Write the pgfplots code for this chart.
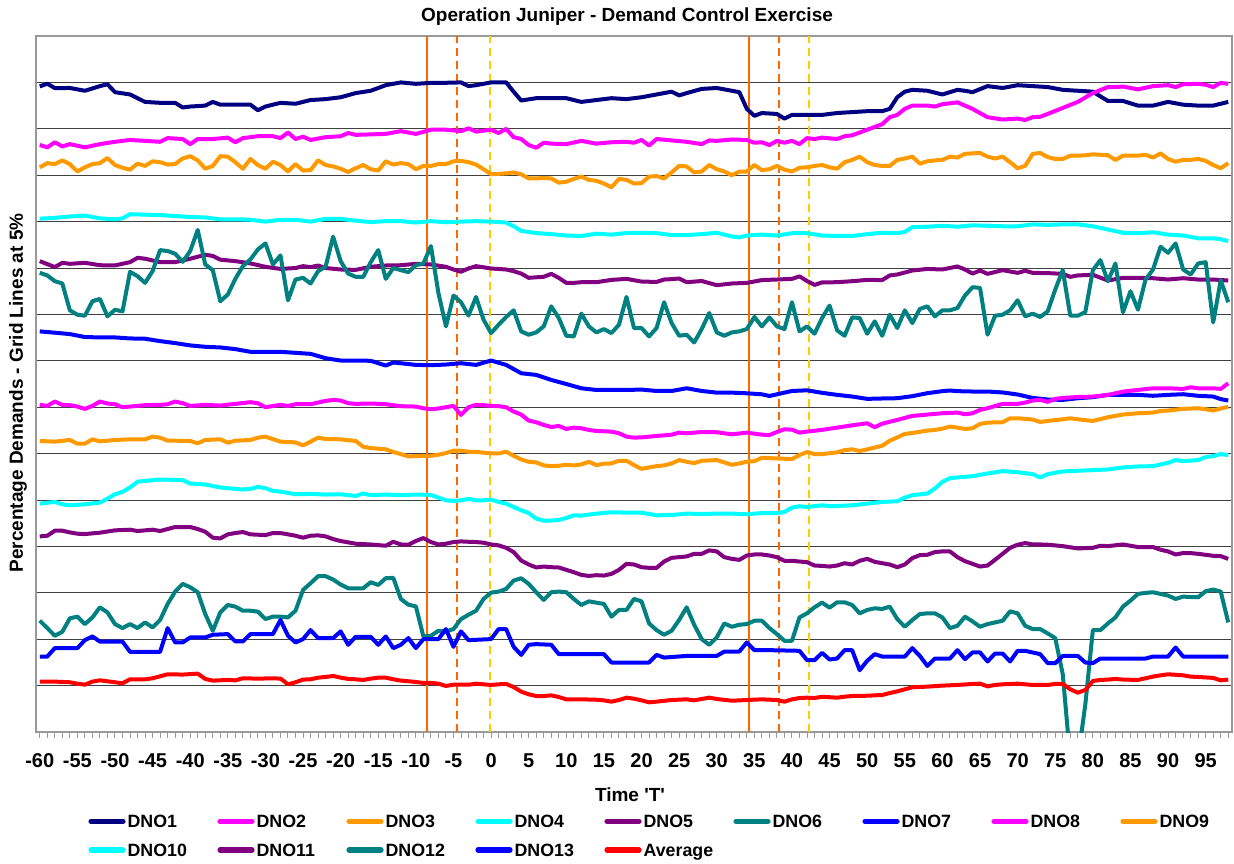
\documentclass[border=0pt]{standalone}
\usepackage{fontspec}
\setmainfont{Liberation Sans}
\usepackage{pgfplots}
\pgfplotsset{compat=1.18}
\definecolor{cNavy}{RGB}{0,0,128}
\definecolor{cMag}{RGB}{255,0,255}
\definecolor{cOrg}{RGB}{255,153,0}
\definecolor{cCyan}{RGB}{0,255,255}
\definecolor{cPurp}{RGB}{128,0,128}
\definecolor{cTeal}{RGB}{0,128,128}
\definecolor{cBlue}{RGB}{0,0,255}
\definecolor{cRed}{RGB}{255,0,0}
\definecolor{vOrange}{RGB}{255,102,0}
\definecolor{vYellow}{RGB}{255,204,0}
\newcommand{\lbl}[1]{\makebox[44.9pt][l]{#1}}
\begin{document}
\begin{tikzpicture}
\path[use as bounding box] (-18pt,-65.5pt) rectangle (599pt,366pt);
\begin{axis}[
  at={(0pt,0pt)}, anchor=south west,
  scale only axis, width=598pt, height=348pt,
  xmin=-60.5, xmax=98.5, ymin=0, ymax=75,
  axis line style={draw=gray!80, line width=0.6pt},
  xtick={-60,-55,...,95},
  xticklabels={-60,-55,-50,-45,-40,-35,-30,-25,-20,-15,-10,-5,0,5,10,15,20,25,30,35,40,45,50,55,60,65,70,75,80,85,90,95},
  minor xtick={-60,-59,...,98},
  xtick pos=left,
  tick align=outside,
  major tick length=3pt, minor tick length=3pt,
  x tick style={draw=gray!80, line width=0.5pt},
  ytick={5,10,...,70},
  yticklabels={},
  y tick style={draw=none},
  ymajorgrids,
  major grid style={draw=black!75, line width=0.5pt},
  xticklabel style={font=\bfseries\fontsize{10}{12}\selectfont, anchor=center, inner sep=0pt, text height=7.2pt, text depth=0pt, yshift=-11pt},
  every axis plot/.append style={line width=2pt, line join=round, mark=none},
  legend columns=9,
  legend style={at={(axis description cs:0.04348,-0.1185)}, anchor=north west, draw=none, fill=none, inner sep=0pt, row sep=8pt,
    font=\bfseries\fontsize{8.9}{10}\selectfont,
    nodes={inner sep=0pt, text height=6.4pt, text depth=0pt},
    /tikz/every odd column/.style={column sep=1pt},
    /tikz/every even column/.style={column sep=0pt},
    cells={anchor=west}},
  legend image code/.code={\draw[#1, line width=2.6pt, line cap=round] (0pt,0pt) -- (16pt,0pt);},
]
% event markers
\addplot[vOrange, line width=1pt, forget plot] coordinates {(-8.55,0) (-8.55,75)};
\addplot[vOrange, line width=1pt, dash pattern=on 4pt off 2.5pt, forget plot] coordinates {(-4.5,0) (-4.5,75)};
\addplot[vYellow, line width=1pt, dash pattern=on 4pt off 2.5pt, forget plot] coordinates {(-0.2,0) (-0.2,75)};
\addplot[vOrange, line width=1pt, forget plot] coordinates {(34.3,0) (34.3,75)};
\addplot[vOrange, line width=1pt, dash pattern=on 4pt off 2.5pt, forget plot] coordinates {(38.25,0) (38.25,75)};
\addplot[vYellow, line width=1pt, dash pattern=on 4pt off 2.5pt, forget plot] coordinates {(42.3,0) (42.3,75)};

% DNO1
\addplot[cNavy] coordinates {(-60,69.57)(-59,69.86)(-58,69.39)(-56,69.4)(-54,69.1)(-52,69.6)(-51,69.8)(-50,68.95)(-48,68.7)(-46,67.9)(-44,67.8)(-42,67.8)(-41,67.3)(-40,67.4)(-38,67.5)(-37,67.9)(-36,67.6)(-34,67.6)(-32,67.6)(-31,67.0)(-30,67.4)(-28,67.8)(-26,67.7)(-24,68.1)(-22,68.2)(-20,68.4)(-18,68.85)(-16,69.1)(-14,69.7)(-12,70.0)(-10,69.85)(-8,69.95)(-6,69.96)(-4,70.0)(-3,69.6)(-2,69.7)(0,70.0)(2,70.0)(3,69.0)(4,68.05)(6,68.3)(8,68.3)(10,68.3)(12,67.9)(14,68.1)(16,68.3)(18,68.2)(20,68.4)(22,68.7)(24,69.0)(25,68.6)(26,68.85)(28,69.3)(30,69.4)(32,69.1)(33,68.95)(34,67.15)(35,66.4)(36,66.7)(38,66.6)(39,66.1)(40,66.5)(42,66.5)(44,66.5)(46,66.7)(48,66.8)(50,66.9)(52,66.9)(53,67.15)(54,68.4)(55,69.0)(56,69.2)(58,69.1)(60,68.7)(62,69.2)(63,69.1)(64,68.95)(66,69.6)(68,69.4)(70,69.7)(72,69.6)(74,69.5)(76,69.2)(78,69.1)(80,69.0)(82,68.0)(84,68.0)(86,67.5)(88,67.5)(90,67.9)(92,67.6)(94,67.5)(96,67.5)(98,67.9)};
\addlegendentry{\lbl{DNO1}}
% DNO2
\addplot[cMag] coordinates {(-60,63.26)(-59,63.0)(-58,63.55)(-57,63.1)(-56,63.35)(-54,63.0)(-52,63.35)(-50,63.6)(-48,63.8)(-46,63.7)(-44,63.6)(-43,64.0)(-41,63.9)(-40,63.35)(-39,63.9)(-37,63.9)(-35,64.05)(-34,63.55)(-33,64.0)(-31,64.2)(-29,64.2)(-28,64.0)(-27,64.6)(-26,63.9)(-25,64.15)(-24,63.8)(-22,64.1)(-20,64.2)(-19,64.55)(-18,64.35)(-16,64.4)(-14,64.45)(-12,64.75)(-10,64.45)(-8,64.9)(-6,64.9)(-4,64.75)(-3,65.05)(-2,64.7)(0,64.9)(1,64.55)(2,64.99)(3,64.1)(4,63.9)(5,63.25)(6,62.96)(7,63.5)(8,63.4)(10,63.35)(12,63.7)(14,63.4)(16,63.55)(18,63.6)(19,63.5)(20,63.8)(21,63.2)(22,63.9)(24,63.75)(26,63.6)(28,63.35)(29,63.75)(30,63.7)(32,63.85)(34,63.8)(35,63.5)(36,63.55)(37,63.25)(38,63.7)(39,63.5)(40,63.7)(41,63.35)(42,64.0)(43,63.9)(44,64.05)(46,63.9)(47,64.2)(48,64.3)(50,64.9)(52,65.5)(53,66.25)(54,66.5)(55,67.15)(56,67.5)(58,67.5)(59,67.4)(60,67.65)(62,67.85)(63,67.5)(64,67.15)(65,66.7)(66,66.25)(68,66.0)(70,66.1)(71,65.95)(72,66.25)(73,66.3)(74,66.6)(76,67.25)(78,67.9)(80,68.85)(82,69.5)(83,69.5)(84,69.55)(86,69.25)(88,69.6)(90,69.7)(91,69.5)(92,69.8)(94,69.85)(95,69.75)(96,69.5)(97,69.95)(98,69.85)};
\addlegendentry{\lbl{DNO2}}
% DNO3
\addplot[cOrg] coordinates {(-60,60.84)(-59,61.3)(-58,61.2)(-57,61.6)(-56,61.2)(-55,60.4)(-54,60.85)(-53,61.2)(-52,61.3)(-51,61.85)(-50,61.1)(-49,60.8)(-48,60.6)(-47,61.25)(-46,61.0)(-45,61.5)(-44,61.4)(-43,61.15)(-42,61.2)(-41,61.8)(-40,62.05)(-39,61.6)(-38,60.7)(-37,61.0)(-36,62.05)(-35,62.0)(-34,61.4)(-33,60.7)(-32,61.75)(-31,61.1)(-30,60.7)(-29,61.45)(-28,61.1)(-27,60.4)(-26,61.2)(-25,60.5)(-24,60.55)(-23,61.6)(-22,61.1)(-21,60.95)(-20,60.7)(-19,60.35)(-18,60.75)(-17,61.1)(-16,60.65)(-15,60.5)(-14,61.5)(-13,61.15)(-12,61.3)(-11,61.2)(-10,60.65)(-9,61.0)(-8,61.0)(-7,61.2)(-6,61.2)(-5,61.5)(-4,61.55)(-3,61.4)(-2,61.15)(-1,60.65)(0,60.1)(1,60.15)(2,60.2)(3,60.3)(4,60.1)(5,59.65)(6,59.65)(7,59.7)(8,59.65)(9,59.2)(10,59.3)(11,59.6)(12,59.85)(13,59.5)(14,59.4)(15,59.1)(16,58.7)(17,59.6)(18,59.5)(19,59.1)(20,59.15)(21,59.85)(22,59.9)(23,59.65)(24,60.3)(25,61.0)(26,60.95)(27,60.3)(28,60.4)(29,61.1)(30,60.65)(31,60.4)(32,60.0)(33,60.4)(34,60.4)(35,61.1)(36,60.55)(37,60.65)(38,61.0)(39,60.6)(40,60.4)(41,60.8)(42,60.85)(43,61.0)(44,61.1)(45,60.85)(46,60.7)(47,61.4)(48,61.65)(49,62.0)(50,61.4)(51,61.1)(52,61.0)(53,61.0)(54,61.65)(55,61.8)(56,62.0)(57,61.25)(58,61.5)(59,61.6)(60,61.65)(61,62.0)(62,61.9)(63,62.3)(64,62.35)(65,62.4)(66,62.0)(67,61.8)(68,62.0)(69,61.4)(70,60.75)(71,61.0)(72,62.3)(73,62.4)(74,61.95)(75,61.75)(76,61.75)(77,62.1)(78,62.1)(79,62.15)(80,62.25)(82,62.15)(83,61.65)(84,62.1)(85,62.1)(86,62.1)(87,62.2)(88,61.9)(89,62.35)(90,61.75)(91,61.45)(92,61.65)(93,61.65)(94,61.75)(95,61.55)(96,61.1)(97,60.75)(98,61.3)};
\addlegendentry{\lbl{DNO3}}
% DNO4
\addplot[cCyan] coordinates {(-60,55.32)(-58,55.4)(-56,55.55)(-54,55.65)(-52,55.35)(-50,55.25)(-49,55.35)(-48,55.8)(-46,55.75)(-44,55.7)(-42,55.6)(-40,55.5)(-38,55.45)(-36,55.25)(-34,55.25)(-32,55.2)(-30,55.0)(-28,55.2)(-26,55.2)(-24,55.0)(-22,55.3)(-20,55.3)(-18,55.1)(-16,54.95)(-14,55.05)(-12,55.05)(-10,54.9)(-8,55.05)(-6,54.93)(-4,55.0)(-2,55.05)(0,55.0)(2,54.9)(3,54.5)(4,54.0)(6,53.77)(8,53.65)(10,53.5)(12,53.45)(14,53.7)(16,53.6)(18,53.77)(20,53.8)(22,53.75)(24,53.55)(26,53.55)(28,53.65)(30,53.8)(32,53.4)(33,53.3)(34,53.5)(36,53.6)(38,53.5)(40,53.75)(42,53.75)(44,53.5)(46,53.45)(48,53.45)(50,53.65)(52,53.8)(54,53.75)(55,53.9)(56,54.4)(58,54.45)(60,54.55)(62,54.45)(64,54.6)(66,54.55)(68,54.5)(70,54.5)(72,54.7)(74,54.65)(76,54.7)(78,54.7)(80,54.5)(82,54.15)(84,53.8)(86,53.75)(88,53.85)(90,53.6)(92,53.5)(94,53.2)(96,53.2)(97,53.1)(98,52.9)};
\addlegendentry{\lbl{DNO4}}
% DNO5
\addplot[cPurp] coordinates {(-60,50.74)(-58,50.1)(-57,50.56)(-56,50.45)(-54,50.56)(-52,50.3)(-50,50.28)(-48,50.63)(-47,51.1)(-46,51.0)(-44,50.63)(-42,50.63)(-40,51.0)(-38,51.43)(-37,51.3)(-36,50.9)(-34,50.74)(-32,50.5)(-30,50.13)(-28,49.9)(-26,50.0)(-25,50.2)(-24,50.1)(-23,50.27)(-22,50.0)(-20,49.84)(-18,49.8)(-16,50.13)(-14,50.27)(-12,50.3)(-10,50.45)(-8,50.38)(-6,50.13)(-5,49.84)(-4,49.6)(-3,49.95)(-2,50.2)(0,49.95)(2,49.84)(3,49.66)(4,49.4)(5,48.94)(6,49.0)(7,49.05)(8,49.37)(9,48.94)(10,48.4)(11,48.4)(12,48.47)(14,48.47)(16,48.72)(18,48.83)(20,48.54)(22,48.5)(23,48.76)(24,48.8)(25,48.87)(26,48.47)(28,48.6)(30,48.15)(32,48.33)(34,48.4)(36,48.7)(38,48.76)(40,48.83)(41,49.1)(42,48.6)(43,48.18)(44,48.45)(46,48.47)(48,48.58)(50,48.72)(52,48.7)(53,49.2)(54,49.3)(56,49.73)(58,49.9)(60,49.84)(62,50.17)(63,49.84)(64,49.4)(65,49.73)(66,49.37)(68,49.77)(70,49.48)(71,49.7)(72,49.48)(74,49.45)(76,49.37)(77,49.05)(78,49.2)(80,49.27)(82,48.65)(84,48.94)(86,48.94)(88,48.9)(90,48.76)(92,48.9)(94,48.76)(96,48.76)(98,48.65)};
\addlegendentry{\lbl{DNO5}}
% DNO6
\addplot[cTeal] coordinates {(-60,49.48)(-59,49.2)(-58,48.58)(-57,48.33)(-56,45.44)(-55,44.97)(-54,44.86)(-53,46.42)(-52,46.67)(-51,44.79)(-50,45.5)(-49,45.33)(-48,49.59)(-47,49.12)(-46,48.4)(-45,49.66)(-44,51.93)(-43,51.83)(-42,51.54)(-41,50.67)(-40,51.83)(-39,54.1)(-38,50.38)(-37,49.77)(-36,46.42)(-35,47.14)(-34,48.83)(-33,50.2)(-32,50.92)(-31,52.0)(-30,52.65)(-29,50.38)(-28,51.36)(-27,46.52)(-26,48.76)(-25,48.94)(-24,48.33)(-23,49.66)(-22,50.13)(-21,53.38)(-20,50.74)(-19,49.4)(-18,49.05)(-17,49.05)(-16,50.63)(-15,51.93)(-14,48.83)(-13,50.0)(-12,49.77)(-11,49.55)(-10,50.3)(-9,50.49)(-8,52.36)(-7,47.3)(-6,43.71)(-5,47.03)(-4,46.31)(-3,44.87)(-2,46.88)(-1,44.43)(0,42.99)(1,43.89)(2,44.72)(3,45.44)(4,43.17)(5,42.81)(6,43.06)(7,43.71)(8,45.87)(9,44.61)(10,42.7)(11,42.63)(12,45.08)(13,43.71)(14,43.06)(15,43.42)(16,42.99)(17,43.89)(18,46.88)(19,43.53)(20,43.53)(21,42.63)(22,43.53)(23,46.31)(24,44.07)(25,42.7)(26,42.81)(27,41.98)(28,43.42)(29,45.15)(30,43.06)(31,42.7)(32,43.06)(33,43.17)(34,43.42)(35,44.72)(36,43.71)(37,44.68)(38,43.71)(39,43.42)(40,46.31)(41,43.17)(42,43.71)(43,42.92)(44,44.61)(45,45.95)(46,43.28)(47,42.7)(48,44.68)(49,44.61)(50,42.92)(51,44.25)(52,42.7)(53,44.97)(54,43.53)(55,45.44)(56,44.07)(57,45.59)(58,45.87)(59,44.79)(60,45.44)(61,45.44)(62,45.69)(63,47.03)(64,47.93)(65,47.86)(66,42.81)(67,44.86)(68,44.97)(69,45.44)(70,46.52)(71,44.79)(72,45.08)(73,44.72)(74,45.33)(75,47.68)(76,49.77)(77,44.86)(78,44.86)(79,45.26)(80,49.77)(81,50.85)(82,48.58)(83,50.49)(84,45.23)(85,47.5)(86,45.51)(87,48.76)(88,49.84)(89,52.29)(90,51.64)(91,52.65)(92,49.84)(93,49.3)(94,50.49)(95,50.63)(96,44.14)(97,48.69)(98,46.31)};
\addlegendentry{\lbl{DNO6}}
% DNO7
\addplot[cBlue] coordinates {(-60,43.17)(-58,43.03)(-56,42.88)(-54,42.56)(-52,42.52)(-50,42.52)(-48,42.41)(-46,42.38)(-44,42.12)(-42,41.91)(-40,41.66)(-38,41.51)(-36,41.44)(-34,41.26)(-32,40.97)(-30,40.97)(-28,40.97)(-26,40.86)(-24,40.75)(-22,40.28)(-20,40.03)(-18,40.03)(-16,40.0)(-14,39.49)(-13,39.82)(-12,39.74)(-10,39.56)(-8,39.53)(-6,39.6)(-4,39.74)(-2,39.56)(0,40.03)(2,39.56)(4,38.66)(6,38.48)(8,37.94)(10,37.5)(12,37.04)(14,36.86)(16,36.86)(18,36.86)(20,36.9)(22,36.75)(24,36.75)(26,37.04)(28,36.75)(30,36.57)(32,36.57)(34,36.5)(36,36.39)(37,36.21)(38,36.39)(40,36.75)(42,36.82)(44,36.55)(46,36.33)(48,36.15)(50,35.9)(52,35.94)(54,35.97)(56,36.19)(58,36.51)(60,36.73)(61,36.8)(62,36.73)(64,36.69)(66,36.69)(68,36.59)(70,36.37)(72,36.0)(74,35.83)(76,35.79)(78,35.97)(80,36.08)(82,36.33)(84,36.33)(86,36.33)(88,36.23)(90,36.33)(92,36.4)(94,36.23)(96,36.15)(97,35.87)(98,35.72)};
\addlegendentry{\lbl{DNO7}}
% DNO8
\addplot[cMag] coordinates {(-60,35.25)(-59,35.14)(-58,35.61)(-57,35.25)(-56,35.22)(-55,35.07)(-54,34.82)(-53,35.14)(-52,35.61)(-51,35.4)(-50,35.32)(-49,35.0)(-48,35.07)(-46,35.22)(-44,35.25)(-43,35.32)(-42,35.61)(-41,35.43)(-40,35.14)(-38,35.25)(-36,35.18)(-34,35.36)(-32,35.54)(-31,35.43)(-30,35.0)(-28,35.25)(-27,35.14)(-26,35.32)(-24,35.32)(-23,35.5)(-22,35.68)(-21,35.79)(-20,35.72)(-19,35.43)(-18,35.36)(-16,35.4)(-14,35.32)(-12,35.11)(-10,35.07)(-9,34.89)(-8,34.78)(-7,34.86)(-6,35.0)(-5,35.14)(-4,34.17)(-3,35.0)(-2,35.25)(-1,35.22)(0,35.14)(1,35.11)(2,35.0)(3,34.53)(4,34.21)(5,33.56)(6,33.38)(7,33.09)(8,32.87)(9,32.98)(10,32.66)(11,32.8)(12,32.73)(13,32.55)(14,32.44)(16,32.37)(17,32.19)(18,31.83)(19,31.72)(20,31.75)(22,31.9)(24,32.04)(25,32.26)(26,32.19)(28,32.33)(30,32.3)(32,32.08)(34,32.26)(36,32.04)(37,32.0)(38,32.33)(39,32.62)(40,32.58)(41,32.26)(42,32.37)(44,32.56)(46,32.8)(48,33.05)(50,33.27)(51,32.84)(52,33.23)(54,33.63)(56,34.06)(58,34.21)(60,34.35)(62,34.42)(63,34.24)(64,34.35)(65,34.71)(66,34.89)(68,35.36)(70,35.36)(71,35.5)(72,35.72)(73,35.79)(74,35.58)(75,35.9)(76,36.0)(78,36.1)(80,36.14)(82,36.32)(84,36.68)(86,36.86)(88,37.04)(90,37.04)(92,36.97)(93,37.15)(94,37.04)(96,37.04)(97,36.97)(98,37.58)};
\addlegendentry{\lbl{DNO8}}
% DNO9
\addplot[cOrg] coordinates {(-60,31.36)(-58,31.29)(-56,31.47)(-55,31.07)(-54,31.07)(-53,31.54)(-52,31.32)(-50,31.47)(-48,31.54)(-46,31.54)(-45,31.83)(-44,31.72)(-43,31.39)(-42,31.39)(-40,31.36)(-39,31.11)(-38,31.47)(-36,31.54)(-35,31.18)(-34,31.39)(-32,31.47)(-31,31.72)(-30,31.83)(-28,31.29)(-26,31.21)(-25,30.89)(-24,31.29)(-23,31.72)(-22,31.57)(-20,31.54)(-18,31.36)(-17,30.74)(-16,30.6)(-14,30.46)(-13,30.17)(-12,29.95)(-11,29.7)(-10,29.73)(-8,29.77)(-7,29.88)(-6,30.06)(-5,30.31)(-4,30.31)(-3,30.2)(-2,30.2)(-1,30.1)(0,30.02)(1,30.02)(2,30.2)(3,29.77)(4,29.37)(5,29.12)(6,29.05)(7,28.73)(8,28.65)(9,28.69)(10,28.8)(11,28.73)(12,28.83)(13,29.12)(14,28.76)(15,28.91)(16,28.94)(17,29.23)(18,29.23)(19,28.76)(20,28.36)(21,28.51)(22,28.65)(23,28.73)(24,28.94)(25,29.3)(26,29.12)(27,28.98)(28,29.23)(30,29.3)(32,28.8)(33,28.94)(34,29.12)(35,29.19)(36,29.55)(38,29.48)(40,29.41)(41,29.84)(42,30.17)(43,29.95)(44,29.95)(46,30.13)(47,30.38)(48,30.46)(49,30.28)(50,30.46)(52,30.85)(53,31.39)(54,31.75)(55,32.12)(56,32.22)(58,32.48)(59,32.55)(60,32.69)(61,32.91)(62,32.8)(63,32.66)(64,32.73)(65,33.2)(66,33.34)(68,33.38)(69,33.81)(70,33.81)(72,33.67)(73,33.41)(74,33.52)(76,33.7)(77,33.81)(78,33.7)(80,33.52)(82,33.92)(84,34.21)(86,34.35)(88,34.42)(89,34.6)(90,34.64)(92,34.82)(94,34.89)(95,34.78)(96,34.64)(97,34.86)(98,35.04)};
\addlegendentry{\lbl{DNO9}}
% DNO10
\addplot[cCyan] coordinates {(-60,24.61)(-58,24.79)(-57,24.54)(-56,24.43)(-54,24.54)(-52,24.72)(-51,25.15)(-50,25.62)(-49,25.88)(-48,26.35)(-47,26.96)(-46,27.07)(-44,27.21)(-42,27.17)(-41,27.14)(-40,26.78)(-38,26.67)(-36,26.35)(-34,26.2)(-33,26.13)(-32,26.2)(-31,26.42)(-30,26.27)(-29,25.98)(-28,25.91)(-26,25.62)(-24,25.66)(-22,25.59)(-20,25.62)(-18,25.44)(-17,25.7)(-16,25.52)(-14,25.59)(-12,25.52)(-10,25.59)(-8,25.55)(-7,25.26)(-6,24.97)(-5,24.9)(-4,24.97)(-3,25.12)(-2,24.97)(-1,24.97)(0,25.05)(1,24.79)(2,24.61)(3,24.25)(4,23.89)(5,23.6)(6,22.99)(7,22.78)(8,22.78)(9,22.85)(10,23.06)(11,23.35)(12,23.32)(14,23.53)(16,23.68)(18,23.64)(20,23.64)(22,23.35)(24,23.39)(26,23.53)(28,23.5)(30,23.53)(32,23.53)(34,23.46)(36,23.6)(38,23.6)(39,23.71)(40,24.18)(41,24.33)(42,24.25)(44,24.43)(45,24.33)(46,24.36)(48,24.43)(50,24.61)(52,24.79)(54,24.87)(55,25.26)(56,25.52)(58,25.7)(59,26.24)(60,26.96)(61,27.35)(62,27.43)(64,27.57)(66,27.86)(68,28.11)(70,28.0)(72,27.79)(73,27.43)(74,27.79)(76,28.08)(78,28.15)(80,28.22)(82,28.29)(84,28.51)(86,28.62)(88,28.65)(90,29.01)(91,29.3)(92,29.19)(94,29.3)(95,29.63)(96,29.73)(97,29.95)(98,29.84)};
\addlegendentry{\lbl{DNO10}}
% DNO11
\addplot[cPurp] coordinates {(-60,21.08)(-59,21.15)(-58,21.69)(-57,21.69)(-56,21.51)(-55,21.37)(-54,21.33)(-52,21.48)(-50,21.73)(-48,21.8)(-47,21.66)(-46,21.73)(-45,21.8)(-44,21.66)(-43,21.87)(-42,22.09)(-40,22.09)(-39,21.87)(-38,21.58)(-37,20.94)(-36,20.86)(-35,21.3)(-34,21.44)(-33,21.55)(-32,21.3)(-31,21.26)(-30,21.22)(-29,21.44)(-28,21.44)(-27,21.3)(-26,21.15)(-25,20.94)(-24,21.15)(-23,21.19)(-22,21.08)(-21,20.79)(-20,20.58)(-18,20.29)(-16,20.21)(-14,20.07)(-13,20.5)(-12,20.21)(-11,20.18)(-10,20.58)(-9,20.9)(-8,20.47)(-7,20.21)(-6,20.29)(-5,20.47)(-4,20.54)(-3,20.5)(-2,20.47)(-1,20.4)(0,20.21)(1,20.11)(2,19.85)(3,19.39)(4,18.48)(5,18.05)(6,17.73)(7,17.83)(8,17.76)(9,17.73)(10,17.47)(11,17.22)(12,16.93)(13,16.82)(14,16.9)(15,16.86)(16,17.04)(17,17.47)(18,18.12)(19,18.05)(20,17.76)(21,17.69)(22,17.69)(23,18.37)(24,18.77)(25,18.84)(26,18.92)(27,19.2)(28,19.2)(29,19.57)(30,19.46)(31,18.84)(32,18.66)(33,18.55)(34,19.02)(35,19.13)(36,19.13)(37,19.02)(38,18.84)(39,18.45)(40,18.45)(41,18.37)(42,18.3)(43,17.94)(44,17.9)(45,17.83)(46,17.94)(47,18.19)(48,18.05)(49,18.45)(50,18.66)(51,18.34)(52,18.19)(53,18.05)(54,17.76)(55,18.05)(56,18.74)(57,19.06)(58,19.1)(59,19.39)(60,19.46)(61,19.46)(62,18.84)(63,18.41)(64,18.12)(65,17.83)(66,17.94)(67,18.56)(68,19.2)(69,19.85)(70,20.18)(71,20.36)(72,20.21)(73,20.21)(74,20.18)(76,20.03)(78,19.78)(80,19.85)(81,20.07)(82,20.03)(84,20.21)(86,19.93)(88,19.93)(89,19.64)(90,19.46)(91,19.13)(92,19.28)(93,19.28)(94,19.2)(96,18.99)(97,18.95)(98,18.66)};
\addlegendentry{\lbl{DNO11}}
% DNO12
\addplot[cTeal] coordinates {(-60,12.0)(-59,11.2)(-58,10.37)(-57,10.8)(-56,12.25)(-55,12.43)(-54,11.63)(-53,12.35)(-52,13.44)(-51,12.89)(-50,11.63)(-49,11.2)(-48,11.63)(-47,11.2)(-46,11.81)(-45,11.27)(-44,12.07)(-43,13.8)(-42,15.13)(-41,15.96)(-40,15.6)(-39,15.06)(-38,12.71)(-37,10.91)(-36,12.89)(-35,13.69)(-34,13.51)(-33,13.07)(-32,13.07)(-31,12.97)(-30,12.17)(-29,12.43)(-28,12.43)(-27,12.35)(-26,13.07)(-25,15.31)(-24,16.03)(-23,16.79)(-22,16.79)(-21,16.43)(-20,15.89)(-19,15.49)(-18,15.49)(-17,15.49)(-16,16.14)(-15,15.85)(-14,16.57)(-13,16.61)(-12,14.34)(-11,13.72)(-10,13.54)(-9,10.3)(-8,10.37)(-7,10.91)(-6,10.84)(-5,11.09)(-4,12.17)(-3,12.64)(-2,13.07)(-1,14.34)(0,15.02)(1,15.13)(2,15.42)(3,16.32)(4,16.57)(5,15.96)(6,15.06)(7,14.23)(8,15.06)(9,15.13)(10,15.06)(11,14.34)(12,13.69)(13,14.08)(14,13.94)(15,13.8)(16,12.43)(17,13.15)(18,13.15)(19,14.34)(20,14.08)(21,11.7)(22,10.98)(23,10.48)(24,10.91)(25,12.07)(26,13.44)(27,11.56)(28,10.01)(29,9.4)(30,10.19)(31,11.7)(32,11.34)(33,11.56)(34,11.63)(35,11.99)(36,11.99)(37,11.2)(38,10.55)(39,9.83)(40,9.83)(41,12.35)(42,12.79)(43,13.44)(44,13.94)(45,13.4)(46,13.98)(47,13.98)(48,13.69)(49,12.79)(50,13.15)(51,13.33)(52,13.26)(53,13.51)(54,12.17)(55,11.34)(56,12.07)(57,12.71)(58,12.79)(59,12.79)(60,12.35)(61,11.2)(62,11.45)(63,12.43)(64,11.92)(65,11.34)(66,11.63)(67,11.81)(68,11.99)(69,13.0)(70,12.79)(71,11.45)(72,11.09)(73,11.09)(74,10.62)(75,10.12)(76,6.22)(77,-3)(78,-3)(79,2.98)(80,10.98)(81,10.98)(82,11.7)(83,12.35)(84,13.51)(85,14.16)(86,14.88)(87,14.99)(88,15.06)(89,14.88)(90,14.7)(91,14.34)(92,14.59)(93,14.55)(94,14.52)(95,15.17)(96,15.35)(97,15.13)(98,11.81)};
\addlegendentry{\lbl{DNO12}}
% DNO13
\addplot[cBlue] coordinates {(-60,8.13)(-59,8.13)(-58,9.04)(-55,9.04)(-54,9.9)(-53,10.3)(-52,9.74)(-49,9.74)(-48,8.64)(-44,8.64)(-43,11.2)(-42,9.65)(-41,9.65)(-40,10.19)(-38,10.19)(-37,10.48)(-35,10.55)(-34,9.76)(-33,9.76)(-32,10.55)(-29,10.55)(-28,12.07)(-27,10.37)(-26,9.65)(-25,10.01)(-24,10.98)(-23,10.12)(-21,10.12)(-20,10.84)(-19,9.4)(-18,10.26)(-16,10.26)(-15,9.4)(-14,10.3)(-13,9.04)(-12,9.4)(-11,10.12)(-10,9.04)(-9,10.01)(-7,10.01)(-6,11.09)(-5,9.18)(-4,10.84)(-3,9.9)(0,10.01)(1,11.09)(2,11.09)(3,9.18)(4,8.31)(5,9.4)(6,9.47)(8,9.4)(9,8.39)(15,8.39)(16,7.49)(21,7.49)(22,8.31)(23,8.02)(26,8.2)(30,8.2)(31,8.67)(33,8.67)(34,9.65)(35,8.82)(37,8.82)(41,8.75)(42,7.74)(43,7.74)(44,8.53)(45,7.81)(46,7.92)(47,8.82)(48,8.82)(49,6.66)(50,7.67)(51,8.39)(52,8.13)(55,8.13)(56,9.04)(57,8.2)(58,7.12)(59,7.92)(61,7.92)(62,8.82)(63,7.85)(64,8.57)(65,8.57)(66,7.6)(67,8.46)(68,8.46)(69,7.6)(70,8.75)(71,8.75)(73,8.39)(74,7.42)(75,7.42)(76,8.2)(78,8.2)(79,7.49)(80,7.42)(81,7.92)(87,7.92)(88,8.13)(90,8.13)(91,9.11)(92,8.13)(98,8.13)};
\addlegendentry{\lbl{DNO13}}
% Average
\addplot[cRed] coordinates {(-60,5.43)(-58,5.43)(-56,5.36)(-55,5.21)(-54,5.1)(-53,5.43)(-52,5.57)(-50,5.36)(-49,5.25)(-48,5.68)(-46,5.68)(-45,5.79)(-43,6.22)(-41,6.19)(-39,6.29)(-38,5.72)(-37,5.54)(-35,5.61)(-34,5.57)(-33,5.79)(-31,5.75)(-29,5.79)(-28,5.75)(-27,5.14)(-26,5.36)(-25,5.65)(-24,5.68)(-23,5.86)(-22,5.93)(-21,6.04)(-20,5.86)(-19,5.72)(-18,5.68)(-17,5.61)(-16,5.75)(-15,5.86)(-14,5.86)(-13,5.68)(-12,5.54)(-11,5.47)(-10,5.39)(-9,5.29)(-8,5.3)(-7,5.21)(-6,4.96)(-5,5.1)(-4,5.1)(-3,5.1)(-2,5.21)(-1,5.14)(0,5.07)(1,5.14)(2,5.18)(3,4.85)(4,4.35)(5,4.06)(6,3.88)(7,3.88)(8,3.95)(9,3.77)(10,3.52)(12,3.52)(14,3.48)(15,3.41)(16,3.27)(17,3.45)(18,3.7)(19,3.59)(20,3.41)(21,3.2)(22,3.27)(24,3.45)(26,3.52)(27,3.41)(28,3.56)(29,3.7)(30,3.56)(32,3.37)(34,3.45)(36,3.52)(38,3.45)(39,3.27)(40,3.52)(41,3.66)(42,3.7)(43,3.66)(44,3.8)(46,3.7)(47,3.81)(48,3.88)(50,3.91)(51,3.95)(52,3.99)(53,4.2)(54,4.38)(56,4.82)(58,4.89)(60,5.0)(62,5.07)(64,5.18)(65,5.21)(66,4.92)(67,5.07)(68,5.14)(70,5.21)(72,5.07)(74,5.07)(75,5.18)(76,5.18)(77,4.6)(78,4.24)(79,4.53)(80,5.5)(81,5.61)(82,5.65)(83,5.72)(84,5.65)(86,5.61)(87,5.79)(88,5.97)(89,6.11)(90,6.22)(92,6.11)(93,5.97)(94,5.93)(96,5.83)(97,5.57)(98,5.65)};
\addlegendentry{\lbl{Average}}
\end{axis}
\node[font=\bfseries\fontsize{9.5}{11}\selectfont] at (295.5pt,357.5pt) {Operation Juniper - Demand Control Exercise};
\node[font=\bfseries\fontsize{9.5}{11}\selectfont, rotate=90] at (-9pt,169.5pt) {Percentage Demands - Grid Lines at 5\%};
\node[font=\bfseries\fontsize{9.5}{11}\selectfont] at (297pt,-31.5pt) {Time \textquotesingle T\textquotesingle};
\end{tikzpicture}
\end{document}
